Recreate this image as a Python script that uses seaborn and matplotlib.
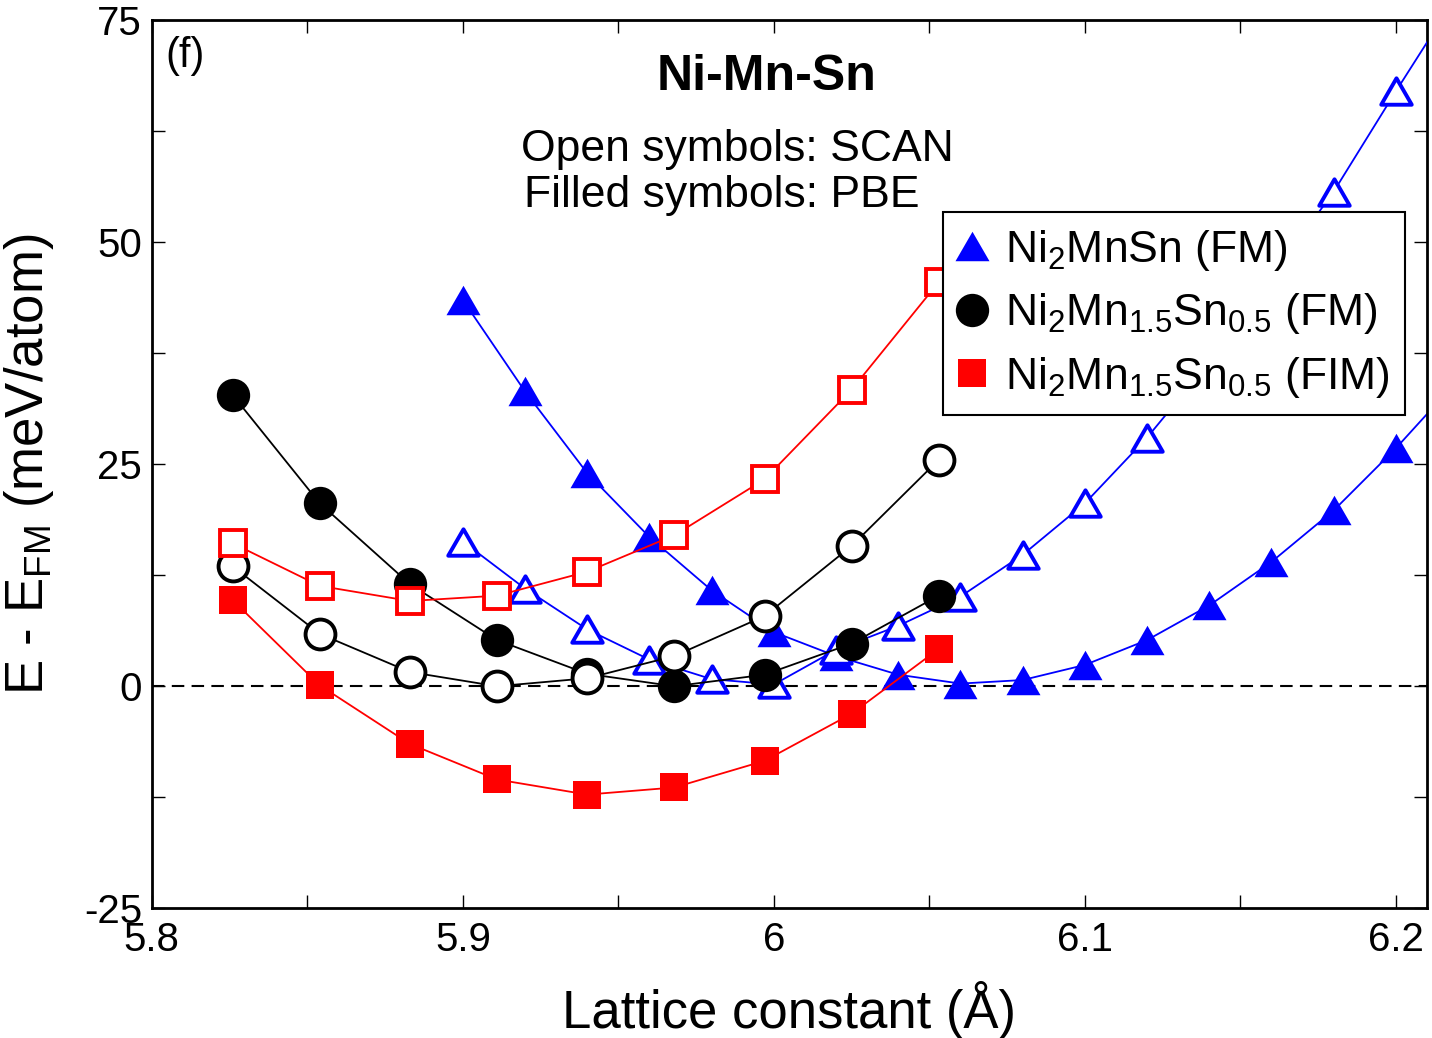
import matplotlib
matplotlib.use("Agg")
import matplotlib.pyplot as plt
from matplotlib.lines import Line2D
from matplotlib.path import Path
from matplotlib.ticker import MultipleLocator, FormatStrFormatter
import seaborn as sns
import pandas as pd

# ---------------------------------------------------------------------------
# Data
# ---------------------------------------------------------------------------
a_ni2mnsn = [5.90, 5.92, 5.94, 5.96, 5.98, 6.00, 6.02, 6.04, 6.06, 6.08,
             6.10, 6.12, 6.14, 6.16, 6.18, 6.20, 6.22]
e_ni2mnsn_pbe = [43.5, 33.2, 24.0, 16.8, 10.8, 6.1, 3.4, 1.3, 0.3, 0.7,
                 2.4, 5.2, 9.1, 14.0, 19.8, 26.8, 34.5]
e_ni2mnsn_scan = [16.3, 11.0, 6.4, 3.0, 0.8, 0.2, 4.1, 6.8, 10.1, 14.8,
                  20.6, 28.0, 36.5, 46.0, 55.7, 67.0, 78.0]

a_mn15 = [5.826, 5.854, 5.883, 5.911, 5.940, 5.968, 5.997, 6.025, 6.053]
e_fm_pbe = [32.8, 20.6, 11.5, 5.2, 1.4, 0.0, 1.3, 4.8, 10.2]
e_fm_scan = [13.5, 5.9, 1.6, 0.0, 0.9, 3.4, 7.9, 15.8, 25.5]
e_fim_pbe = [9.7, 0.1, -6.5, -10.5, -12.2, -11.4, -8.4, -3.1, 4.2]
e_fim_scan = [16.1, 11.3, 9.6, 10.2, 12.9, 17.0, 23.3, 33.4, 45.5]

legend_labels = ["Ni$_2$MnSn (FM)",
                 "Ni$_2$Mn$_{1.5}$Sn$_{0.5}$ (FM)",
                 "Ni$_2$Mn$_{1.5}$Sn$_{0.5}$ (FIM)"]

BLUE, BLACK, RED = "#0000ff", "#000000", "#ff0000"
# equilateral triangle, closed so the open version gets a full outline
TRI = Path([(-1, -0.866), (1, -0.866), (0, 0.866), (-1, -0.866)], closed=True)

sns.set_theme(style="ticks")
plt.rcParams["font.family"] = ["Liberation Sans", "DejaVu Sans"]
plt.rcParams["mathtext.fontset"] = "custom"
plt.rcParams["mathtext.rm"] = "Liberation Sans"
plt.rcParams["mathtext.it"] = "Liberation Sans:italic"
plt.rcParams["mathtext.bf"] = "Liberation Sans:bold"
plt.rcParams["text.color"] = "black"
plt.rcParams["axes.labelcolor"] = "black"
plt.rcParams["axes.edgecolor"] = "black"

fig = plt.figure(figsize=(14.32, 10.38), dpi=100)
ax = fig.add_axes([0.106, 0.125, 0.8905, 0.8555])

ax.axhline(0, color="black", lw=1.5, ls=(0, (6, 3.5)), zorder=1)

series = [
    # x, y, colour, marker, filled, size
    (a_ni2mnsn, e_ni2mnsn_pbe, BLUE, TRI, True, 24.5),
    (a_ni2mnsn, e_ni2mnsn_scan, BLUE, TRI, False, 22.0),
    (a_mn15, e_fm_pbe, BLACK, "o", True, 24.0),
    (a_mn15, e_fm_scan, BLACK, "o", False, 21.5),
    (a_mn15, e_fim_pbe, RED, "s", True, 20.5),
    (a_mn15, e_fim_scan, RED, "s", False, 18.7),
]
for i, (xs, ys, col, mk, filled, ms) in enumerate(series):
    df = pd.DataFrame({"a": xs, "e": ys})
    sns.lineplot(data=df, x="a", y="e", ax=ax, color=col, lw=1.3,
                 estimator=None, sort=False, legend=False,
                 marker=mk, markersize=ms,
                 markerfacecolor=col if filled else "white",
                 markeredgecolor=col,
                 markeredgewidth=0 if filled else 2.8,
                 zorder=2 + i, clip_on=True)

ax.set_xlim(5.8, 6.21)
ax.set_ylim(-25, 75)
ax.xaxis.set_major_locator(MultipleLocator(0.1))
ax.xaxis.set_minor_locator(MultipleLocator(0.05))
ax.yaxis.set_major_locator(MultipleLocator(25))
ax.yaxis.set_minor_locator(MultipleLocator(12.5))
ax.xaxis.set_major_formatter(FormatStrFormatter("%g"))
ax.yaxis.set_major_formatter(FormatStrFormatter("%g"))
ax.tick_params(which="both", direction="in", top=True, right=True,
               length=9.5, width=1.0, colors="black")
ax.tick_params(axis="x", which="major", labelsize=29, pad=9)
ax.tick_params(axis="y", which="major", labelsize=29, pad=7)
for sp in ax.spines.values():
    sp.set_linewidth(2.0)
    sp.set_color("black")

ax.set_xlabel("Lattice constant (Å)", fontsize=38, labelpad=16)
ax.set_ylabel("E - E$_\\mathrm{FM}$ (meV/atom)", fontsize=38, labelpad=20)

ax.text(0.011, 0.947, "(f)", transform=ax.transAxes, fontsize=30,
        ha="left", va="baseline")
ax.text(0.482, 0.921, "Ni-Mn-Sn", transform=ax.transAxes, fontsize=36,
        fontweight="bold", ha="center", va="baseline")
ax.text(0.459, 0.8416, "Open symbols: SCAN", transform=ax.transAxes,
        fontsize=32, ha="center", va="baseline")
ax.text(0.447, 0.790, "Filled symbols: PBE", transform=ax.transAxes,
        fontsize=32, ha="center", va="baseline")

handles = [
    Line2D([], [], ls="none", marker=TRI, ms=24.5, color=BLUE, mew=0),
    Line2D([], [], ls="none", marker="o", ms=24, color=BLACK, mew=0),
    Line2D([], [], ls="none", marker="s", ms=20.5, color=RED, mew=0),
]
leg = ax.legend(handles, legend_labels, loc="upper right",
                bbox_to_anchor=(0.983, 0.784), fontsize=32, frameon=True,
                fancybox=False, framealpha=1, edgecolor="black",
                borderpad=0.35, labelspacing=0.42, handlelength=0.6,
                handletextpad=0.45, borderaxespad=0)
leg.get_frame().set_linewidth(1.5)
leg.set_zorder(20)

fig.savefig("out.png", dpi=100)
